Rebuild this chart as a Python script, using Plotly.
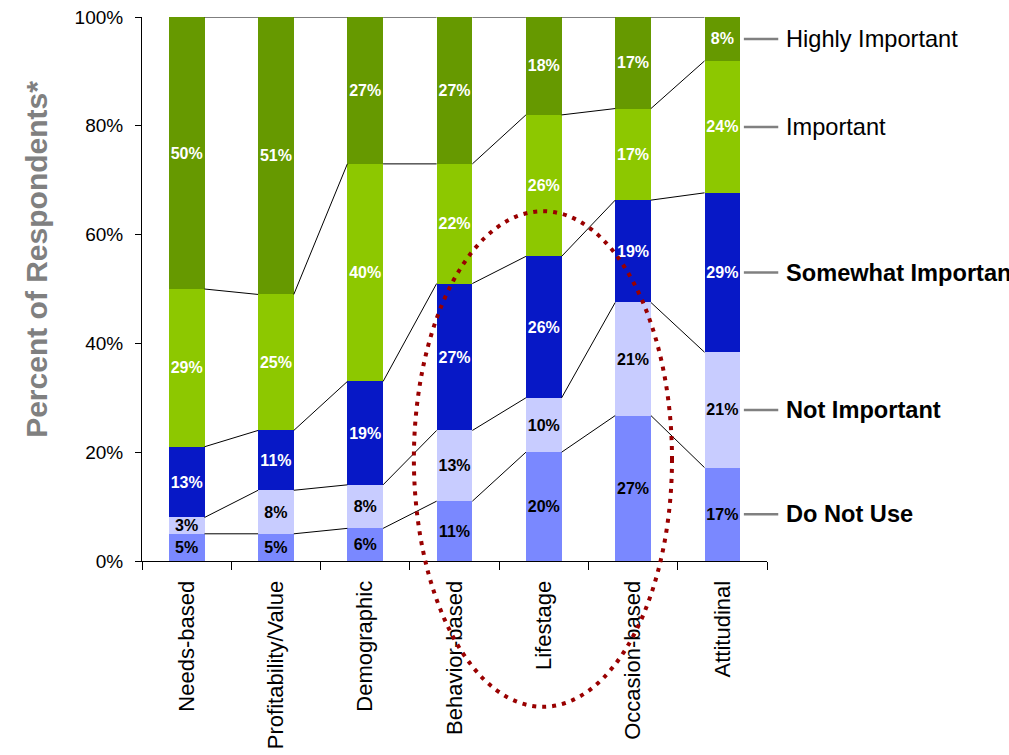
import plotly.graph_objects as go

categories = ["Needs-based", "Profitability/Value", "Demographic", "Behavior-based",
              "Lifestage", "Occasion-based", "Attitudinal"]

# Share of respondents (%) per rating, bottom to top of each stack
do_not_use = [5, 5, 6, 11, 20, 27, 17]
not_important = [3, 8, 8, 13, 10, 21, 21]
somewhat_important = [13, 11, 19, 27, 26, 19, 29]
important = [29, 25, 40, 22, 26, 17, 24]
highly_important = [50, 51, 27, 27, 18, 17, 8]

y_ticks = [0, 20, 40, 60, 80, 100]
y_tick_labels = ["0%", "20%", "40%", "60%", "80%", "100%"]

series_names = ["Do Not Use", "Not Important", "Somewhat Important", "Important", "Highly Important"]
series_values = [do_not_use, not_important, somewhat_important, important, highly_important]
series_colors = ["#7A88FF", "#C8CCFF", "#0718C6", "#8DC800", "#669900"]
label_colors = ["black", "black", "white", "white", "white"]
bold_names = {"Do Not Use", "Not Important", "Somewhat Important"}

FONT = "Liberation Sans, Arial, sans-serif"
BAR_W = 0.4
xs = list(range(len(categories)))

fig = go.Figure()

for name, vals, col, tcol in zip(series_names, series_values, series_colors, label_colors):
    fig.add_trace(go.Bar(
        name=name, x=xs, y=vals, width=BAR_W,
        marker=dict(color=col, line=dict(width=0)),
        text=[f"{v}%" for v in vals], textposition="inside",
        insidetextanchor="middle", textangle=0,
        textfont=dict(family=FONT, size=16, color=tcol, weight="bold"),
        hoverinfo="skip",
    ))

# Normalised cumulative boundaries (the stack is shown as 100%)
totals = [sum(s[i] for s in series_values) for i in xs]
cum = []
running = [0.0] * len(xs)
for vals in series_values:
    running = [r + v * 100.0 / t for r, v, t in zip(running, vals, totals)]
    cum.append(list(running))

# Series lines joining matching boundaries of neighbouring bars
lx, ly = [], []
for level in cum:
    for i in xs[:-1]:
        lx += [i + BAR_W / 2, i + 1 - BAR_W / 2, None]
        ly += [level[i], level[i + 1], None]
fig.add_trace(go.Scatter(x=lx, y=ly, mode="lines", line=dict(color="black", width=1),
                         hoverinfo="skip", showlegend=False))

# Series names beside the last bar, at its segment midpoints
last = xs[-1]
annotations = []
shapes = []
prev = 0.0
for name, level in zip(series_names, cum):
    mid = (prev + level[last]) / 2
    prev = level[last]
    text = f"<b>{name}</b>" if name in bold_names else name
    annotations.append(dict(x=1.027, y=mid, xref="paper", yref="y", text=text,
                            showarrow=False, xanchor="left", yanchor="middle",
                            font=dict(family=FONT, size=23.6, color="black")))
    shapes.append(dict(type="line", xref="paper", yref="y", x0=0.963, x1=1.018,
                       y0=mid, y1=mid, line=dict(color="#808080", width=2.5)))

# Axis title
annotations.append(dict(x=-0.17, y=0.555, xref="paper", yref="paper",
                        text="<b>Percent of Respondents*</b>", textangle=-90,
                        showarrow=False, xanchor="center", yanchor="middle",
                        font=dict(family=FONT, size=30, color="#808080")))

# Dotted highlight ellipse
shapes.append(dict(type="circle", xref="paper", yref="paper",
                   x0=0.435, x1=0.848, y0=-0.268, y1=0.643,
                   line=dict(color="#990000", width=4, dash="4px,6px"), layer="above"))

fig.update_layout(
    width=1009, height=755, autosize=False,
    margin=dict(l=142, r=242, t=17, b=194, pad=0, autoexpand=False),
    barmode="stack", barnorm="percent",
    showlegend=False,
    plot_bgcolor="white", paper_bgcolor="white",
    font=dict(family=FONT, color="black"),
    uniformtext=dict(minsize=16, mode="show"),
    annotations=annotations, shapes=shapes,
    xaxis=dict(range=[-0.5, len(categories) - 0.5], tickmode="array", tickvals=xs,
               ticktext=categories, automargin=False,
               tickangle=-90, ticks="outside", ticklen=10, tickcolor="rgba(0,0,0,0)",
               showline=True, linecolor="black", linewidth=1, showgrid=False, zeroline=False,
               tickfont=dict(family=FONT, size=22, color="black"),
               minor=dict(tickmode="array", tickvals=[i - 0.5 for i in xs] + [xs[-1] + 0.5],
                          ticks="outside", ticklen=8, tickcolor="black", tickwidth=1,
                          showgrid=False),
               fixedrange=True),
    yaxis=dict(range=[0, 100], tickmode="array", tickvals=y_ticks, ticktext=y_tick_labels,
               automargin=False,
               ticks="outside", ticklen=6, tickcolor="black", ticklabelstandoff=8,
               showline=True, linecolor="black", linewidth=1, showgrid=False, zeroline=False,
               tickfont=dict(family=FONT, size=19, color="black"), fixedrange=True),
)

fig.write_html("out.html")
